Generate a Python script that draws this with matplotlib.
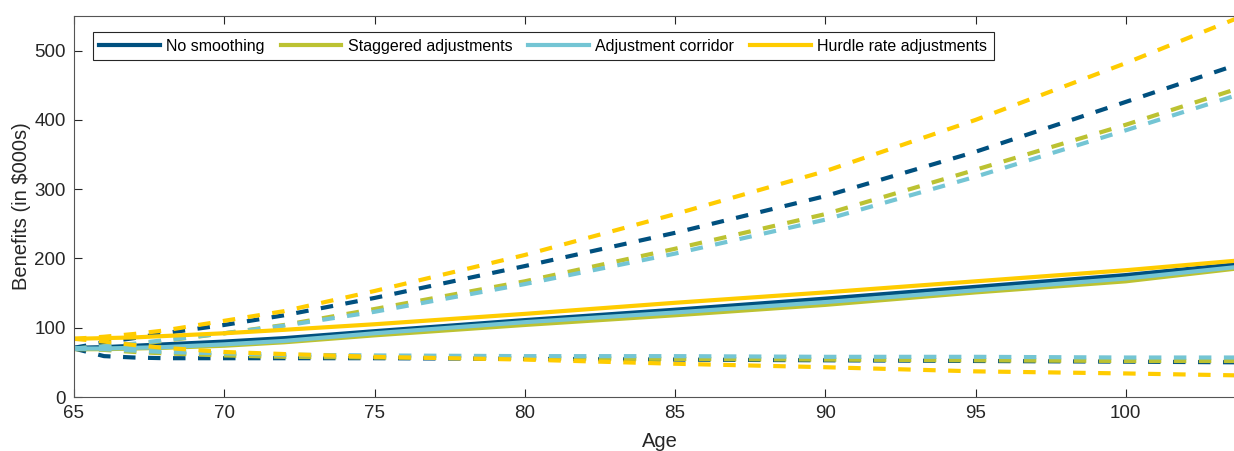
import matplotlib.pyplot as plt

plt.rcParams["font.family"] = ["Liberation Sans", "DejaVu Sans"]

AGES = [65, 66, 67, 68, 70, 72, 75, 80, 85, 90, 95, 100, 104]

SERIES = ["No smoothing", "Staggered adjustments", "Adjustment corridor", "Hurdle rate adjustments"]
COLORS = ["#00507F", "#BCC232", "#74C5D4", "#FFCC00"]

# median paths (solid)
median_none = [71, 72, 74, 76, 80, 85, 95, 111, 126, 142, 159, 176, 193]
median_stag = [69, 69, 70, 71, 74, 79, 89, 104, 118, 133, 151, 167, 187]
median_corr = [70, 70, 71, 72, 76, 81, 92, 108, 122, 137, 154, 171, 189]
median_hurd = [84, 85, 86, 88, 92, 97, 105, 120, 136, 151, 167, 183, 198]

# upper band (dashed)
upper_none = [71, 79, 85, 92, 104, 118, 143, 189, 237, 290, 354, 426, 484]
upper_stag = [70, 73, 76, 81, 92, 104, 127, 167, 214, 264, 328, 393, 449]
upper_corr = [70, 73, 77, 82, 92, 103, 123, 163, 207, 256, 318, 385, 440]
upper_hurd = [84, 87, 91, 96, 110, 124, 153, 205, 264, 326, 400, 482, 552]

# lower band (dashed)
lower_none = [70, 59, 57, 56, 56, 56, 56, 55, 54, 53, 52, 51, 50]
lower_stag = [70, 68, 65, 63, 60, 58, 57, 56, 55, 54, 53, 52, 52]
lower_corr = [70, 69, 67, 65, 63, 61, 60, 59, 59, 58, 58, 57, 57]
lower_hurd = [84, 80, 75, 71, 65, 62, 58, 54, 48, 43, 37, 34, 31]

X_TICKS = [65, 70, 75, 80, 85, 90, 95, 100]
Y_TICKS = [0, 100, 200, 300, 400, 500]


def main():
    fig = plt.figure(figsize=(12.34, 4.51), dpi=100)
    ax = fig.add_axes([74 / 1234, 54 / 451, 1172 / 1234, 381 / 451])

    medians = [median_none, median_stag, median_corr, median_hurd]
    uppers = [upper_none, upper_stag, upper_corr, upper_hurd]
    lowers = [lower_none, lower_stag, lower_corr, lower_hurd]

    handles = []
    for name, color, med, up, lo in zip(SERIES, COLORS, medians, uppers, lowers):
        for band in (up, lo):
            ax.plot(AGES, band, color=color, lw=3.0, dashes=(3.0, 3.0),
                    solid_capstyle="butt", dash_capstyle="butt")
        (h,) = ax.plot(AGES, med, color=color, lw=3.0, label=name)
        handles.append(h)

    ax.set_xlim(65, 104)
    ax.set_ylim(0, 550)
    ax.set_xticks(X_TICKS)
    ax.set_yticks(Y_TICKS)
    ax.tick_params(direction="in", length=6, width=0.8, colors="#262626",
                   labelsize=13.5, top=True, right=True, pad=6)
    for spine in ax.spines.values():
        spine.set_color("#555555")
        spine.set_linewidth(0.8)

    ax.set_xlabel("Age", fontsize=14.5, color="#262626", labelpad=7)
    ax.set_ylabel("Benefits (in $000s)", fontsize=14.5, color="#262626", labelpad=2)

    leg = ax.legend(handles=handles, loc="upper left", bbox_to_anchor=(0.016, 0.957),
                    borderaxespad=0, ncol=4, fontsize=11.5, frameon=True, fancybox=False,
                    edgecolor="#262626", framealpha=1, handlelength=3.8,
                    handletextpad=0.4, columnspacing=1.0, borderpad=0.4)
    leg.get_frame().set_linewidth(0.8)

    fig.savefig("out.png", dpi=100)
    plt.close(fig)


if __name__ == "__main__":
    main()
